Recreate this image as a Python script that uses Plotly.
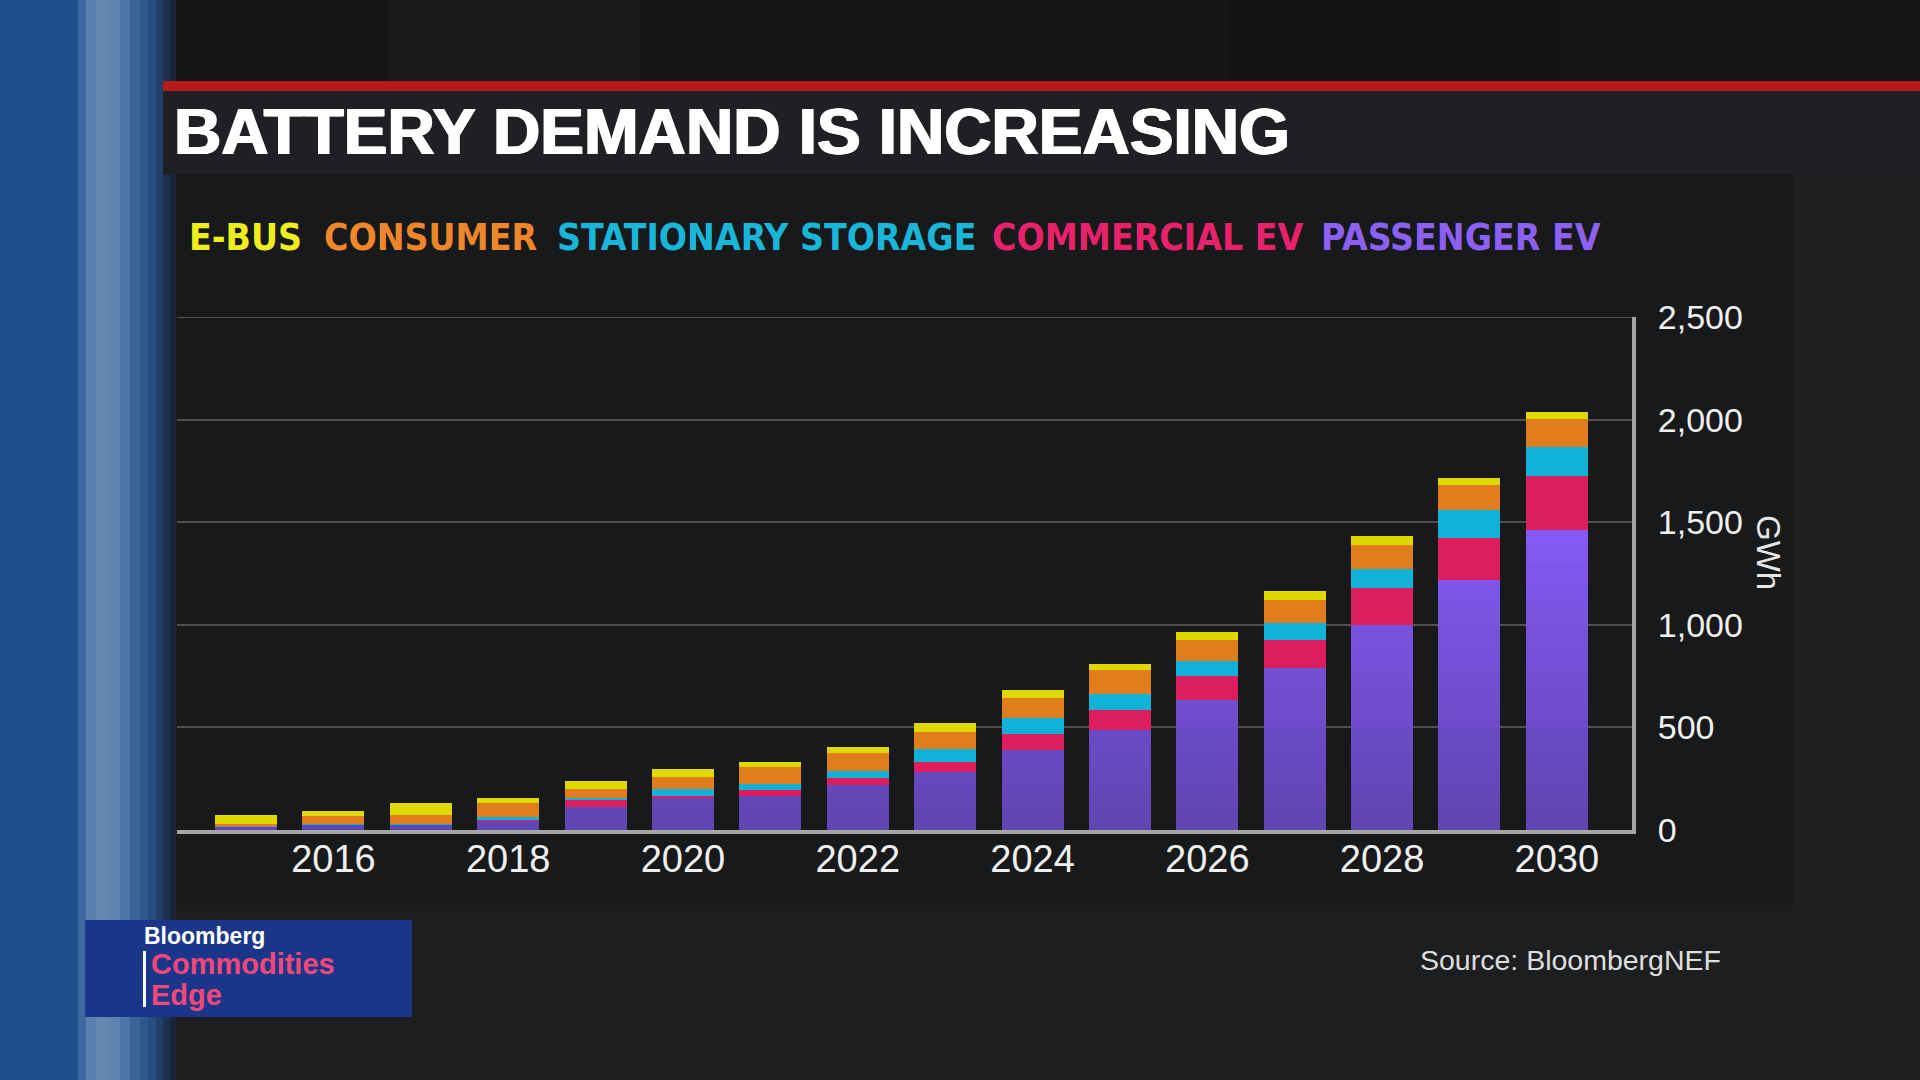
import plotly.graph_objects as go

# ---------------- data ----------------
years = list(range(2015, 2031))
passenger_ev = [10, 27, 27, 47, 113, 154, 168, 220, 283, 388, 486, 633, 790, 1000, 1216, 1462]
commercial_ev = [7, 2, 1, 2, 31, 13, 28, 33, 50, 81, 97, 116, 135, 181, 206, 261]
stationary_storage = [1, 1, 1, 16, 11, 32, 29, 33, 60, 78, 82, 75, 82, 89, 139, 143]
consumer = [13, 36, 44, 66, 46, 61, 82, 89, 85, 95, 113, 101, 115, 120, 122, 139]
e_bus = [41, 28, 60, 24, 36, 39, 24, 31, 43, 39, 30, 39, 41, 42, 30, 30]

x_ticks = [2016, 2018, 2020, 2022, 2024, 2026, 2028, 2030]
y_ticks = [0, 500, 1000, 1500, 2000, 2500]
legend_labels = ["E-BUS", "CONSUMER", "STATIONARY STORAGE", "COMMERCIAL EV", "PASSENGER EV"]
title_text = "BATTERY DEMAND IS INCREASING"
source_text = "Source: BloombergNEF"
unit_text = "GWh"

# ---------------- styling ----------------
W, H = 1920, 1080
PL, PR, PT, PB = 177, 1632, 317, 830   # plot area in pixels
COL_PURPLE_LO = (96, 68, 176)
COL_PURPLE_HI = (134, 90, 246)
COL_PINK = "#dc1f5c"
COL_CYAN = "#12b2d8"
COL_ORANGE = "#e07d1c"
COL_YELLOW = "#dcd800"
GRID = "#505050"
LEG_COLORS = ["#eeee1e", "#ee872a", "#1ab6da", "#e8226a", "#8c60f2"]
LEG_CENTERS = [245, 430, 766, 1147, 1461]


def px(x):
    return (x - PL) / (PR - PL)


def py(y):
    return (PB - y) / (PB - PT)


def lerp_col(t):
    t = max(0.0, min(1.0, t))
    c = [round(a + (b - a) * t) for a, b in zip(COL_PURPLE_LO, COL_PURPLE_HI)]
    return "rgb(%d,%d,%d)" % tuple(c)


fig = go.Figure()

# passenger EV drawn as vertical colour bands (gradient like the original)
BAND = 100
n_bands = 15
for k in range(n_bands):
    lo = k * BAND
    seg = [min(max(v - lo, 0), BAND) for v in passenger_ev]
    fig.add_bar(x=years, y=seg, marker=dict(color=lerp_col((lo + BAND / 2) / 1500), line=dict(width=0)),
                showlegend=False, hoverinfo="skip")

for vals, col in [(commercial_ev, COL_PINK), (stationary_storage, COL_CYAN),
                  (consumer, COL_ORANGE), (e_bus, COL_YELLOW)]:
    fig.add_bar(x=years, y=vals, marker=dict(color=col, line=dict(width=0)), showlegend=False)

# ---------------- background decoration ----------------
shapes = []


def rect(x0, y0, x1, y1, color):
    shapes.append(dict(type="rect", xref="paper", yref="paper", x0=px(x0), x1=px(x1), y0=py(y1), y1=py(y0),
                       fillcolor=color, line=dict(width=0), layer="below"))


rect(0, 0, W, H, "#1d1e20")
rect(175, 0, W, 81, "#151618")
rect(390, 0, 640, 81, "#18191b")
rect(1230, 0, 1560, 81, "#121314")
# blue stripe on the left
stripe = [(0, 78, "#1f4f8d"), (78, 86, "#3f68a0"), (86, 96, "#5a7fac"), (96, 108, "#6689b3"),
          (108, 120, "#5f84b0"), (120, 130, "#4d75a5"), (130, 140, "#3b6597"), (140, 148, "#30598b"),
          (148, 156, "#294d7c"), (156, 163, "#223f69"), (163, 170, "#1d3051"), (170, 176, "#1b2538")]
for a, b, c in stripe:
    rect(a, 0, b, H, c)
# chart panel
rect(176, 175, 1793, 905, "#18191b")
rect(1793, 175, W, H, "#1f2022")
# red line and title band
rect(163, 81, W, 91, "#b51b1b")
rect(163, 91, W, 175, "#1f2024")
# logo box
rect(85, 920, 412, 1017, "#1b3688")
rect(143, 951, 146, 1007, "#ffffff")
# top gridline at the top of the value axis (plotly drops the one on the edge)
shapes.append(dict(type="line", xref="paper", yref="y", x0=0, x1=1, y0=y_ticks[-1], y1=y_ticks[-1],
                   line=dict(color=GRID, width=2), layer="below"))

annotations = []


def text(x, y, s, size, color, family="Liberation Sans, Arial, sans-serif", xanchor="left",
         weight="normal", angle=0, shadow="none"):
    annotations.append(dict(x=px(x), y=py(y), xref="paper", yref="paper", text=s, showarrow=False,
                            xanchor=xanchor, yanchor="middle", textangle=angle,
                            font=dict(size=size, color=color, family=family, weight=weight, shadow=shadow)))


text(172, 132, title_text, 65.5, "#ffffff", weight="bold",
     shadow="1px 0px 0px #ffffff, -1px 0px 0px #ffffff")
for lab, col, cx in zip(legend_labels, LEG_COLORS, LEG_CENTERS):
    text(cx, 237, lab, 37, col, family="DejaVu Sans Condensed, Liberation Sans Narrow, sans-serif",
         xanchor="center", weight="bold")
text(1769, 552, unit_text, 33, "#e6e6e6", xanchor="center", angle=90)
text(1570, 960, source_text, 28.5, "#dedede", xanchor="center")
text(142, 936, "Bloomberg", 23, "#ffffff", weight="bold")
text(149, 964, "Commodities", 29, "#f0487a", weight="bold")
text(149, 995, "Edge", 29, "#f0487a", weight="bold")

fig.update_layout(
    width=W, height=H, autosize=False,
    margin=dict(l=PL, r=W - PR, t=PT, b=H - PB, pad=0),
    paper_bgcolor="#1d1e20", plot_bgcolor="rgba(0,0,0,0)",
    barmode="stack", bargap=0.29,
    shapes=shapes, annotations=annotations,
    font=dict(family="Liberation Sans, Arial, sans-serif", color="#eeeeee"),
    xaxis=dict(range=[2014.21, 2030.86], tickvals=x_ticks, ticktext=[str(v) for v in x_ticks],
               showgrid=False, zeroline=False, showline=True, linecolor="#a6a6a6", linewidth=4,
               ticks="", ticklabelstandoff=-8, tickfont=dict(size=38, color="#f0f0f0")),
    yaxis=dict(range=[0, 2500], tickvals=y_ticks, tickformat=",", side="right",
               showgrid=True, gridcolor=GRID, gridwidth=2, zeroline=False,
               showline=True, linecolor="#a6a6a6", linewidth=4,
               ticks="", ticklabelstandoff=15, tickfont=dict(size=34, color="#f0f0f0")),
)

fig.write_html("out.html", config={"displayModeBar": False},
               post_script="document.body.style.margin='0';document.body.style.overflow='hidden';")
